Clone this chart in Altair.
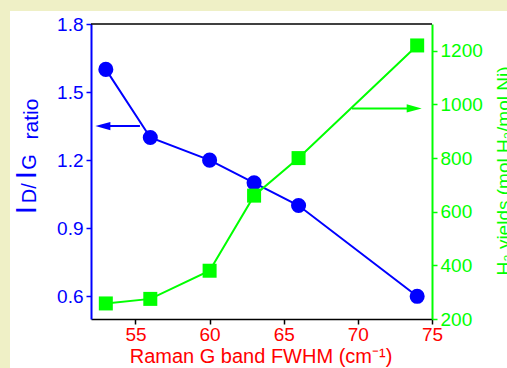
import altair as alt
import pandas as pd

# ---- data ----
fwhm = [53, 56, 60, 63, 66, 74]
id_ig_ratio = [1.6, 1.3, 1.2, 1.1, 1.0, 0.6]
h2_yield = [258, 275, 380, 660, 800, 1220]

x_ticks = [55, 60, 65, 70, 75]
left_ticks = [0.6, 0.9, 1.2, 1.5, 1.8]
right_ticks = [200, 400, 600, 800, 1000, 1200]

# annotation arrows (tail, head) in data units
blue_arrow_x = [55.3, 52.8]
blue_arrow_y = [1.35]
green_arrow_x = [69.6, 73.8]
green_arrow_y = [985]

BLUE = "#0000FF"
GREEN = "#00FF00"
RED = "#FF0000"
CREAM = "#EFF0C6"
FONT = "Liberation Sans"

W, H = 341, 295

df = pd.DataFrame({"fwhm": fwhm, "ratio": id_ig_ratio, "yield": h2_yield})
blue_arrow = pd.DataFrame({"x": [blue_arrow_x[0]], "x2": [blue_arrow_x[1]], "y": blue_arrow_y})
green_arrow = pd.DataFrame({"x": [green_arrow_x[0]], "x2": [green_arrow_x[1]], "y": green_arrow_y})
one = pd.DataFrame({"k": [0]})

x_scale = alt.Scale(domain=[52, 75], nice=False, zero=False)
yl_scale = alt.Scale(domain=[0.5, 1.8], nice=False, zero=False)
yr_scale = alt.Scale(domain=[200, 1300], nice=False, zero=False)

x_axis = alt.Axis(values=x_ticks, format="d", title=None, grid=False,
                  domainColor="black", domainWidth=1.5, tickColor="black",
                  tickWidth=1.5, tickSize=5, labelColor=RED, labelFont=FONT,
                  labelFontSize=19, labelPadding=1, labelFlush=False,
                  labelOverlap=False)
yl_axis = alt.Axis(values=left_ticks, format=".1f", orient="left", title=None,
                   grid=False, domainColor=BLUE, domainWidth=2, tickColor=BLUE,
                   tickWidth=1.5, tickSize=5, labelColor=BLUE, labelFont=FONT,
                   labelFontSize=19, labelPadding=3, labelOverlap=False)
yr_axis = alt.Axis(values=right_ticks, format="d", orient="right", title=None,
                   grid=False, domainColor=GREEN, domainWidth=2, tickColor=GREEN,
                   tickWidth=1.5, tickSize=5, labelColor=GREEN, labelFont=FONT,
                   labelFontSize=19, labelPadding=3, labelOverlap=False)


def X(field="fwhm"):
    return alt.X(field, type="quantitative", scale=x_scale, axis=x_axis)


def YL(field):
    return alt.Y(field, type="quantitative", scale=yl_scale, axis=yl_axis)


def YR(field):
    return alt.Y(field, type="quantitative", scale=yr_scale, axis=yr_axis)


# ---- blue series (left axis) ----
base = alt.Chart(df)
blue_line = base.mark_line(color=BLUE, strokeWidth=2).encode(x=X(), y=YL("ratio"))
blue_pts = base.mark_point(shape="circle", filled=True, size=227, opacity=1,
                           color=BLUE).encode(x=X(), y=YL("ratio"))
blue_arr_rule = alt.Chart(blue_arrow).mark_rule(color=BLUE, strokeWidth=2).encode(
    x=X("x"), x2="x2", y=YL("y"))
blue_arr_head = alt.Chart(blue_arrow).mark_point(
    shape="M-1,0L1,-0.55L1,0.55Z", filled=True, size=225, opacity=1,
    color=BLUE).encode(x=X("x2"), y=YL("y"))
blue_layer = alt.layer(blue_line, blue_pts, blue_arr_rule, blue_arr_head)

# ---- green series (right axis) ----
green_line = base.mark_line(color=GREEN, strokeWidth=2).encode(x=X(), y=YR("yield"))
green_pts = base.mark_square(size=196, opacity=1, color=GREEN).encode(x=X(), y=YR("yield"))
green_arr_rule = alt.Chart(green_arrow).mark_rule(color=GREEN, strokeWidth=2).encode(
    x=X("x"), x2="x2", y=YR("y"))
green_arr_head = alt.Chart(green_arrow).mark_point(
    shape="M1,0L-1,-0.55L-1,0.55Z", filled=True, size=225, opacity=1,
    color=GREEN).encode(x=X("x2"), y=YR("y"))
green_layer = alt.layer(green_line, green_pts, green_arr_rule, green_arr_head)

# ---- decorations ----
strip_left = alt.Chart(one).mark_rect(color=CREAM).encode(
    x=alt.value(-91), x2=alt.value(-81), y=alt.value(-24), y2=alt.value(350))
strip_top = alt.Chart(one).mark_rect(color=CREAM).encode(
    x=alt.value(-91), x2=alt.value(420), y=alt.value(-24), y2=alt.value(-13))
top_border = alt.Chart(one).mark_rule(color="black", strokeWidth=1.5).encode(
    x=alt.value(0), x2=alt.value(W), y=alt.value(0))


def label(txt, px, py, size, color, angle=0, align="center"):
    return alt.Chart(one).mark_text(
        text=txt, font=FONT, fontSize=size, color=color, angle=angle,
        align=align, baseline="alphabetic").encode(x=alt.value(px), y=alt.value(py))


titles = alt.layer(
    label("Raman G band FWHM (cm\u207b\u00b9)", 170, 339, 20, RED),
    label("I", -55, 186, 30, BLUE, angle=270),
    label("D", -55, 172, 20, BLUE, angle=270),
    label("/", -55, 162, 20, BLUE, angle=270),
    label("I", -55, 151, 30, BLUE, angle=270),
    label("G", -55, 138, 20, BLUE, angle=270),
    label("ratio", -53, 95, 21, BLUE, angle=270),
    label("H\u2082 yields (mol H\u2082/mol Ni)", 419, 147, 19, GREEN, angle=270),
)

chart = alt.layer(
    strip_left, strip_top, blue_layer, green_layer, top_border, titles
).resolve_scale(y="independent").properties(
    width=W, height=H,
    padding={"left": 91, "top": 24, "right": 75, "bottom": 49},
    autosize=alt.AutoSizeParams(type="none"),
    background="white",
).configure_view(stroke="transparent")

chart.save("out.html", embed_options={"renderer": "svg", "actions": False})
